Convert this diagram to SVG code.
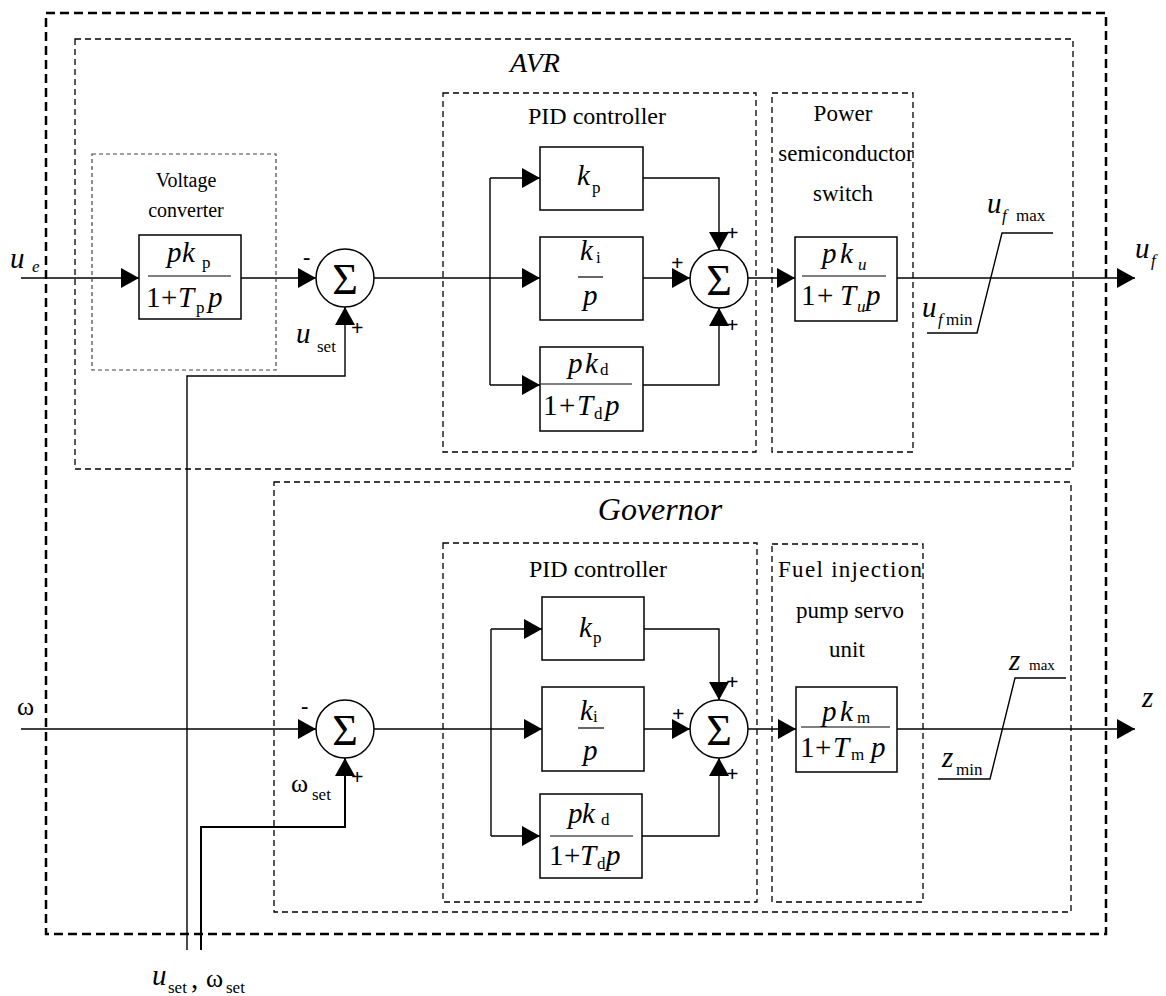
<svg xmlns="http://www.w3.org/2000/svg" width="1166" height="996" viewBox="0 0 1166 996" font-family="'Liberation Serif', 'DejaVu Serif', 'Times New Roman', serif">
<style>
.ob{fill:none;stroke:#000;stroke-width:2.5;stroke-dasharray:9 5}
.db{fill:none;stroke:#000;stroke-width:1.3;stroke-dasharray:6 4}
.gb{fill:none;stroke:#444;stroke-width:1.2;stroke-dasharray:4 3}
.blk{fill:#fff;stroke:#000;stroke-width:1.5}
.ln{fill:none;stroke:#000;stroke-width:1.4}
.fl{fill:none;stroke:#000;stroke-width:1.2}
.ar{marker-end:url(#a)}
.sum{fill:#fff;stroke:#000;stroke-width:1.5}
.lb{font-size:23px;text-anchor:middle}
.lbp{font-size:24px;text-anchor:middle}
.lbs{font-size:20px;text-anchor:middle}
.ttl{font-size:28px;font-style:italic;text-anchor:middle}
.m{font-size:29px;font-style:italic}
.up{font-style:normal}
.s{font-size:17px;font-style:normal}
.si{font-size:17px;font-style:italic}
.sg{font-size:22px;font-weight:bold}
.sig{font-size:44px;text-anchor:middle}
</style>
<defs>
<marker id="a" viewBox="0 0 18 20" refX="18" refY="10" markerWidth="18" markerHeight="20" markerUnits="userSpaceOnUse" orient="auto">
<path d="M0,0 L18,10 L0,20 z" fill="#000"/>
</marker>
</defs>

<g id="frames">
<rect class="ob" x="46" y="13" width="1060" height="921"/>
<rect class="db" x="75" y="39" width="998" height="430"/>
<rect class="db" x="274" y="482" width="797" height="430"/>
</g>

<g id="avr-label"><text class="ttl" x="535" y="72">AVR</text></g>
<g id="gov-label"><text class="ttl" x="660" y="520" style="font-size:32px">Governor</text></g>

<g id="connectors">
<path class="ln ar" d="M21,278 H139"/>
<path class="ln ar" d="M241,278 H316"/>
<path class="ln ar" d="M187,950 V376 H345 V307"/>
<path class="ln ar" d="M374,278 H540"/>
<path class="ln" d="M490,178 V385"/>
<path class="ln ar" d="M490,178 H540"/>
<path class="ln ar" d="M490,385 H540"/>
<path class="ln ar" d="M643,178 H719 V250"/>
<path class="ln ar" d="M643,278 H690"/>
<path class="ln ar" d="M643,385 H719 V308"/>
<path class="ln ar" d="M748,278 H795"/>
<path class="ln ar" d="M897,278 H1135"/>
<path class="ln" d="M927,333 H977 L1002,233 H1053"/>

<path class="ln ar" d="M21,729 H316"/>
<path class="ln ar" d="M201,950 V827 H345 V758" style="stroke-width:2"/>
<path class="ln ar" d="M374,729 H542"/>
<path class="ln" d="M491,629 V836"/>
<path class="ln ar" d="M491,629 H542"/>
<path class="ln ar" d="M491,836 H540"/>
<path class="ln ar" d="M644,629 H719 V700"/>
<path class="ln ar" d="M644,729 H690"/>
<path class="ln ar" d="M642,836 H719 V758"/>
<path class="ln ar" d="M748,729 H796"/>
<path class="ln ar" d="M897,729 H1135"/>
<path class="ln" d="M938,779 H990 L1015,678 H1066"/>
</g>

<g id="voltage-converter">
<rect class="gb" x="92" y="154" width="184" height="216"/>
<text class="lbs" x="186" y="187">Voltage</text>
<text class="lbs" x="186" y="217">converter</text>
</g>
<g id="avr-b1">
<rect class="blk" x="139" y="235" width="102" height="84"/>
<line class="fl" x1="148" y1="276" x2="231" y2="276"/>
<text class="m"><tspan x="167" y="262">p</tspan><tspan x="182" y="262">k</tspan><tspan class="s" x="202" y="268">p</tspan></text>
<text class="m"><tspan class="up" x="146" y="307">1</tspan><tspan class="up" x="161" y="307">+</tspan><tspan x="178" y="307">T</tspan><tspan class="s" x="196" y="313">p</tspan><tspan x="208" y="307">p</tspan></text>
</g>
<g id="avr-sum1">
<circle class="sum" cx="345" cy="278" r="29"/>
<text class="sig" x="345" y="294">Σ</text>
<text class="sg" x="303" y="264">-</text>
<text class="sg" x="351" y="335">+</text>
<text class="m"><tspan x="296" y="343">u</tspan><tspan class="s" x="317" y="352">set</tspan></text>
</g>
<g id="avr-ue"><text class="m"><tspan x="10" y="268">u</tspan><tspan class="si" x="32" y="272">e</tspan></text></g>

<g id="avr-pid">
<rect class="db" x="443" y="93" width="313" height="359"/>
<text class="lbp" x="597" y="124">PID controller</text>
</g>
<g id="avr-kp">
<rect class="blk" x="540" y="147" width="103" height="63"/>
<text class="m"><tspan x="577" y="185">k</tspan><tspan class="s" x="592" y="193">p</tspan></text>
</g>
<g id="avr-ki">
<rect class="blk" x="540" y="237" width="103" height="83"/>
<text class="m"><tspan x="580" y="260">k</tspan><tspan class="s" x="596" y="263">i</tspan></text>
<line class="fl" x1="578" y1="277" x2="603" y2="277"/>
<text class="m" x="583" y="305">p</text>
</g>
<g id="avr-kd">
<rect class="blk" x="540" y="347" width="103" height="84"/>
<text class="m"><tspan x="568" y="373">p</tspan><tspan x="585" y="373">k</tspan><tspan class="s" x="600" y="375">d</tspan></text>
<line class="fl" x1="541" y1="384" x2="632" y2="384"/>
<text class="m"><tspan class="up" x="543" y="415">1</tspan><tspan class="up" x="559" y="415">+</tspan><tspan x="577" y="415">T</tspan><tspan class="s" x="594" y="419">d</tspan><tspan x="605" y="415">p</tspan></text>
</g>
<g id="avr-sum2">
<circle class="sum" cx="719" cy="279" r="29"/>
<text class="sig" x="719" y="295">Σ</text>
<text class="sg" x="726" y="240">+</text>
<text class="sg" x="671" y="270">+</text>
<text class="sg" x="726" y="332">+</text>
</g>
<g id="avr-switch">
<rect class="db" x="772" y="93" width="141" height="359"/>
<text class="lb" x="843" y="121">Power</text>
<text class="lb" x="846" y="161">semiconductor</text>
<text class="lb" x="843" y="201">switch</text>
</g>
<g id="avr-bu">
<rect class="blk" x="795" y="237" width="102" height="84"/>
<text class="m"><tspan x="822" y="263">p</tspan><tspan x="840" y="263">k</tspan><tspan class="si" x="858" y="270">u</tspan></text>
<line class="fl" x1="802" y1="276" x2="886" y2="276"/>
<text class="m"><tspan class="up" x="801" y="305">1</tspan><tspan class="up" x="817" y="305">+</tspan><tspan x="840" y="305">T</tspan><tspan class="si" x="857" y="312">u</tspan><tspan x="866" y="305">p</tspan></text>
</g>
<g id="avr-limiter">
<text class="m"><tspan x="987" y="213">u</tspan><tspan class="si" x="1002" y="221">f</tspan><tspan class="s" x="1016" y="221">max</tspan></text>
<text class="m"><tspan x="922" y="317">u</tspan><tspan class="si" x="938" y="325">f</tspan><tspan class="s" x="946" y="325">min</tspan></text>
</g>
<g id="avr-uf"><text class="m"><tspan x="1135" y="258">u</tspan><tspan class="si" x="1151" y="266">f</tspan></text></g>

<g id="gov-omega"><text class="m up" style="font-size:26px" x="17" y="715">ω</text></g>
<g id="gov-sum1">
<circle class="sum" cx="345" cy="729" r="29"/>
<text class="sig" x="345" y="745">Σ</text>
<text class="sg" x="301" y="713">-</text>
<text class="sg" x="351" y="784">+</text>
<text class="m"><tspan class="up" x="291" y="792" style="font-size:26px">ω</tspan><tspan class="s" x="312" y="800">set</tspan></text>
</g>
<g id="gov-pid">
<rect class="db" x="443" y="543" width="314" height="359"/>
<text class="lbp" x="598" y="577">PID controller</text>
</g>
<g id="gov-kp">
<rect class="blk" x="542" y="597" width="102" height="63"/>
<text class="m"><tspan x="579" y="637">k</tspan><tspan class="s" x="593" y="643">p</tspan></text>
</g>
<g id="gov-ki">
<rect class="blk" x="542" y="687" width="102" height="84"/>
<text class="m"><tspan x="580" y="720">k</tspan><tspan class="s" x="593" y="722">i</tspan></text>
<line class="fl" x1="578" y1="728" x2="604" y2="728"/>
<text class="m" x="583" y="760">p</text>
</g>
<g id="gov-kd">
<rect class="blk" x="540" y="794" width="102" height="84"/>
<text class="m"><tspan x="568" y="823">p</tspan><tspan x="582" y="823">k</tspan><tspan class="s" x="601" y="825">d</tspan></text>
<line class="fl" x1="550" y1="836" x2="633" y2="836"/>
<text class="m"><tspan class="up" x="549" y="865">1</tspan><tspan class="up" x="564" y="865">+</tspan><tspan x="580" y="865">T</tspan><tspan class="s" x="597" y="869">d</tspan><tspan x="606" y="865">p</tspan></text>
</g>
<g id="gov-sum2">
<circle class="sum" cx="719" cy="729" r="29"/>
<text class="sg" x="726" y="689">+</text>
<text class="sig" x="719" y="745">Σ</text>
<text class="sg" x="672" y="721">+</text>
<text class="sg" x="726" y="781">+</text>
</g>
<g id="gov-fuel">
<rect class="db" x="772" y="544" width="151" height="358"/>
<text class="lb" x="850" y="577" textLength="144" lengthAdjust="spacing">Fuel injection</text>
<text class="lb" x="850" y="618">pump servo</text>
<text class="lb" x="847" y="657">unit</text>
</g>
<g id="gov-bm">
<rect class="blk" x="796" y="687" width="101" height="85"/>
<text class="m"><tspan x="822" y="721">p</tspan><tspan x="840" y="721">k</tspan><tspan class="s" x="857" y="723">m</tspan></text>
<line class="fl" x1="801" y1="727" x2="890" y2="727"/>
<text class="m"><tspan class="up" x="800" y="757">1</tspan><tspan class="up" x="815" y="757">+</tspan><tspan x="833" y="757">T</tspan><tspan class="s" x="851" y="760">m</tspan><tspan x="871" y="757">p</tspan></text>
</g>
<g id="gov-limiter">
<text class="m"><tspan x="1009" y="670">z</tspan><tspan class="s" x="1029" y="670" style="font-size:15px">max</tspan></text>
<text class="m"><tspan x="942" y="767">z</tspan><tspan class="s" x="956" y="775">min</tspan></text>
</g>
<g id="gov-z"><text class="m" x="1142" y="707">z</text></g>

<g id="bottom-label">
<text class="m"><tspan x="152" y="985">u</tspan><tspan class="s" x="168" y="993">set</tspan><tspan class="up" x="191" y="988">,</tspan><tspan class="up" x="206" y="987" style="font-size:26px">ω</tspan><tspan class="s" x="226" y="993">set</tspan></text>
</g>
</svg>
